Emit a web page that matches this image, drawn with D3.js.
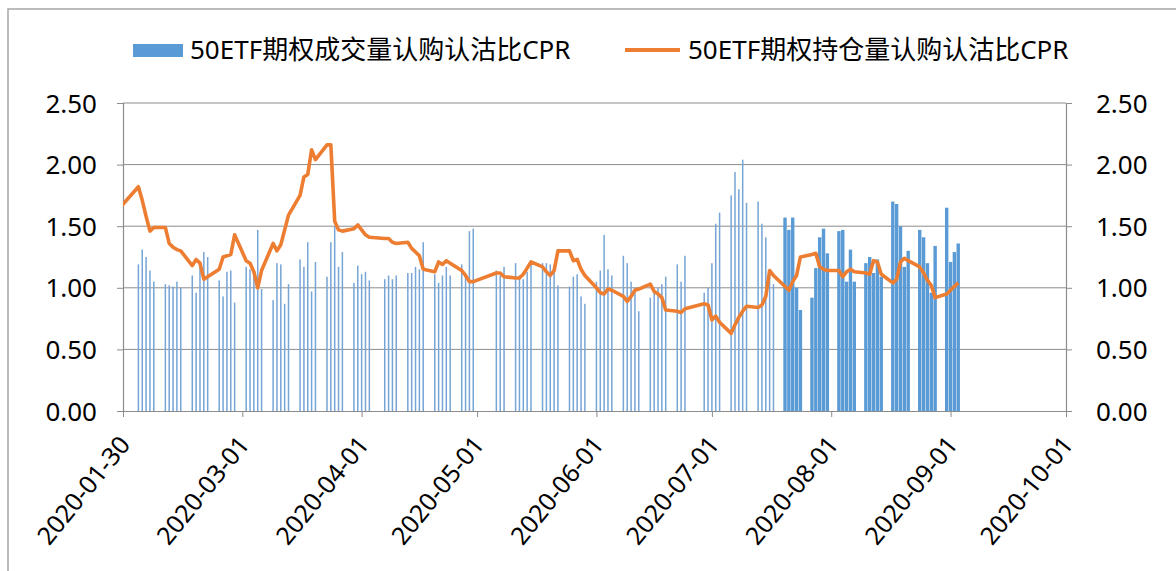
<!DOCTYPE html>
<html>
<head>
<meta charset="utf-8">
<script src="https://cdn.jsdelivr.net/npm/d3@7"></script>
<style>
body { margin: 0; background: #fff; }
text { font-family: "Noto Sans", "Noto Sans CJK SC", sans-serif; fill: #000; }
</style>
</head>
<body>
<svg id="chart"></svg>
<script>

// trading days (2020), the first one sits left of the axis and is clipped
const dates = [
  '01-23',
  '02-03','02-04','02-05','02-06','02-07','02-10','02-11','02-12','02-13','02-14',
  '02-17','02-18','02-19','02-20','02-21','02-24','02-25','02-26','02-27','02-28',
  '03-02','03-03','03-04','03-05','03-06','03-09','03-10','03-11','03-12','03-13',
  '03-16','03-17','03-18','03-19','03-20','03-23','03-24','03-25','03-26','03-27',
  '03-30','03-31',
  '04-01','04-02','04-03','04-07','04-08','04-09','04-10','04-13','04-14','04-15',
  '04-16','04-17','04-20','04-21','04-22','04-23','04-24','04-27','04-28','04-29','04-30',
  '05-06','05-07','05-08','05-11','05-12','05-13','05-14','05-15','05-18','05-19',
  '05-20','05-21','05-22','05-25','05-26','05-27','05-28','05-29',
  '06-01','06-02','06-03','06-04','06-05','06-08','06-09','06-10','06-11','06-12',
  '06-15','06-16','06-17','06-18','06-19','06-22','06-23','06-24','06-29','06-30',
  '07-01','07-02','07-03','07-06','07-07','07-08','07-09','07-10','07-13','07-14',
  '07-15','07-16','07-17','07-20','07-21','07-22','07-23','07-24','07-27','07-28',
  '07-29','07-30','07-31',
  '08-03','08-04','08-05','08-06','08-07','08-10','08-11','08-12','08-13','08-14',
  '08-17','08-18','08-19','08-20','08-21','08-24','08-25','08-26','08-27','08-28','08-31',
  '09-01','09-02','09-03'
]

// 成交量认购认沽比
const volumeCPR = [
  null,
  1.19,1.31,1.25,1.14,1.05, 1.03,1.02,1.01,1.05,1.00,
  1.10,0.96,1.20,1.29,1.25, 1.06,0.93,1.13,1.14,0.88,
  1.17,1.15,1.10,1.47,0.99, 0.90,1.20,1.19,0.87,1.03,
  1.23,1.17,1.37,0.97,1.21, 1.09,1.37,1.50,1.17,1.29,
  1.04,1.18,
  1.11,1.13,1.06, 1.07,1.10,1.07,1.10, 1.12,1.12,1.17,
  1.15,1.37, 1.11,1.04,1.10,1.17,1.10, 1.19,1.11,1.46,1.48,
  1.14,1.10,1.17, 1.20,1.10,1.07,1.13,1.20, 1.20,1.20,
  1.19,1.18,1.02, 1.01,1.09,1.11,0.93,0.87,
  1.05,1.14,1.43,1.15,1.10, 1.26,1.20,1.05,1.00,0.81,
  0.92,0.96,1.00,1.03,1.09, 1.19,1.05,1.26, 0.96,1.00,
  1.20,1.52,1.61, 1.75,1.94,1.80,2.04,1.69, 1.70,1.52,
  1.41,1.12,1.03, 1.57,1.47,1.57,1.00,0.82, 0.92,1.16,
  1.41,1.48,1.28,
  1.46,1.47,1.05,1.31,1.05, 1.20,1.25,1.12,1.23,1.09,
  1.70,1.68,1.50,1.17,1.30, 1.47,1.41,1.20,0.96,1.34, 1.65,
  1.21,1.29,1.36
]

// 持仓量认购认沽比
const oiCPR = [
  1.43,
  1.82,1.71,1.58,1.46,1.49, 1.49,1.36,1.33,1.31,1.30,
  1.18,1.23,1.20,1.07,1.09, 1.15,1.25,1.26,1.27,1.43,
  1.22,1.20,1.13,1.00,1.14, 1.36,1.30,1.35,1.47,1.59,
  1.75,1.90,1.92,2.12,2.04, 2.16,2.16,1.54,1.47,1.46,
  1.48,1.51,
  1.47,1.43,1.41, 1.40,1.40,1.37,1.36, 1.37,1.32,1.29,
  1.26,1.15, 1.13,1.21,1.19,1.22,1.20, 1.14,1.10,1.05,1.05,
  1.12,1.12,1.09, 1.08,1.08,1.11,1.16,1.21, 1.17,1.13,
  1.10,1.14,1.30, 1.30,1.22,1.23,1.15,1.10,
  1.00,0.96,0.95,0.99,0.98, 0.93,0.89,0.93,0.98,0.99,
  1.03,0.97,0.95,0.92,0.82, 0.81,0.80,0.83, 0.87,0.86,
  0.74,0.77,0.72, 0.63,0.70,0.76,0.81,0.85, 0.84,0.86,
  0.93,1.14,1.10, 1.01,0.98,1.05,1.10,1.25, 1.27,1.28,
  1.17,1.15,1.14,
  1.14,1.09,1.13,1.15,1.13, 1.12,1.11,1.22,1.21,1.11,
  1.04,1.07,1.21,1.24,1.22, 1.17,1.12,1.06,1.02,0.92, 0.95,
  0.98,1.01,1.04
]

const yTicks = [0, 0.5, 1, 1.5, 2, 2.5]
const xTicks = ['2020-01-30','2020-03-01','2020-04-01','2020-05-01','2020-06-01',
  '2020-07-01','2020-08-01','2020-09-01','2020-10-01']
const seriesNames = ['50ETF期权成交量认购认沽比CPR', '50ETF期权持仓量认购认沽比CPR']

const width = 1176
const height = 571
const margin = {left: 123, right: 110, top: 103, bottom: 160}

const parse = d3.timeParse('%Y-%m-%d')
const data = dates.map((d, i) => ({date: parse('2020-' + d), vol: volumeCPR[i], oi: oiCPR[i]}))

const svg = d3.select('#chart')
  .attr('width', width)
  .attr('height', height)

// chart frame
svg.append('rect')
  .attr('x', 8).attr('y', 9)
  .attr('width', width + 20).attr('height', height + 20)
  .attr('fill', 'none')
  .attr('stroke', '#a6a6a6')
  .attr('stroke-width', 1.5)

let xScale = d3.scaleTime()
  .domain([parse(xTicks[0]), parse(xTicks[xTicks.length - 1])])
  .range([margin.left, width - margin.right])

let yScale = d3.scaleLinear()
  .domain([0, 2.5])
  .range([height - margin.bottom - 0, margin.top])

svg.append('clipPath').attr('id', 'plot-clip')
  .append('rect')
  .attr('x', margin.left).attr('y', 0)
  .attr('width', width - margin.right - margin.left).attr('height', height)

// gridlines
svg.append('g')
  .selectAll('line')
  .data(yTicks.filter(d => d > 0))
  .join('line')
  .attr('x1', margin.left).attr('x2', width - margin.right)
  .attr('y1', d => yScale(d)).attr('y2', d => yScale(d))
  .attr('stroke', '#8c8c8c')
  .attr('stroke-width', 1)

const fmt = d3.format('.2f')

let yLeft = svg.append('g')
  .attr('transform', `translate(${margin.left},0)`)
  .call(d3.axisLeft(yScale).tickValues(yTicks).tickFormat(fmt).tickSize(6).tickPadding(20))
let yRight = svg.append('g')
  .attr('transform', `translate(${width - margin.right},0)`)
  .call(d3.axisRight(yScale).tickValues(yTicks).tickFormat(fmt).tickSize(6).tickPadding(24))

;[yLeft, yRight].forEach(g => {
  g.select('.domain').attr('stroke', '#8c8c8c').attr('stroke-width', 1.2)
  g.selectAll('.tick line').attr('stroke', '#8c8c8c')
  g.selectAll('.tick text')
    .style('font-size', '26px')
    .attr('dy', '0.35em')
})

let xAxis = svg.append('g')
  .attr('transform', `translate(0,${yScale(0)})`)
  .call(d3.axisBottom(xScale)
    .tickValues(xTicks.map(parse))
    .tickFormat(d3.timeFormat('%Y-%m-%d'))
    .tickSize(6)
    .tickSizeOuter(0))

xAxis.select('.domain').attr('stroke', '#8c8c8c').attr('stroke-width', 1.2)
xAxis.selectAll('.tick line').attr('stroke', '#8c8c8c')
xAxis.selectAll('.tick text')
  .style('font-size', '25px')
  .attr('text-anchor', 'end')
  .attr('dy', 0)
  .attr('y', 0)
  .attr('transform', 'translate(8,34) rotate(-51)')

// bars: thin before late July, wider after (as in the source chart)
const wideFrom = parse('2020-07-20')
svg.append('g')
  .attr('clip-path', 'url(#plot-clip)')
  .selectAll('rect')
  .data(data.filter(d => d.vol != null))
  .join('rect')
  .attr('x', d => xScale(d.date) - (d.date >= wideFrom ? 1.7 : 0.75))
  .attr('width', d => d.date >= wideFrom ? 3.4 : 1.5)
  .attr('y', d => yScale(d.vol))
  .attr('height', d => yScale(0) - yScale(d.vol))
  .attr('fill', d => d.date >= wideFrom ? '#5b9bd5' : '#76a5d6')

const line = d3.line()
  .x(d => xScale(d.date))
  .y(d => yScale(d.oi))

svg.append('path')
  .datum(data)
  .attr('clip-path', 'url(#plot-clip)')
  .attr('d', line)
  .attr('fill', 'none')
  .attr('stroke', '#ed7d31')
  .attr('stroke-width', 3.6)
  .attr('stroke-linejoin', 'round')

// legend
let legend = svg.append('g')
legend.append('rect')
  .attr('x', 133).attr('y', 44)
  .attr('width', 50).attr('height', 13)
  .attr('fill', '#5b9bd5')
legend.append('text')
  .attr('x', 190).attr('y', 50)
  .attr('dy', '0.35em')
  .style('font-size', '26px')
  .text(seriesNames[0])
legend.append('line')
  .attr('x1', 625).attr('x2', 680)
  .attr('y1', 50).attr('y2', 50)
  .attr('stroke', '#ed7d31')
  .attr('stroke-width', 4)
legend.append('text')
  .attr('x', 688).attr('y', 50)
  .attr('dy', '0.35em')
  .style('font-size', '26px')
  .text(seriesNames[1])

</script>
</body>
</html>
